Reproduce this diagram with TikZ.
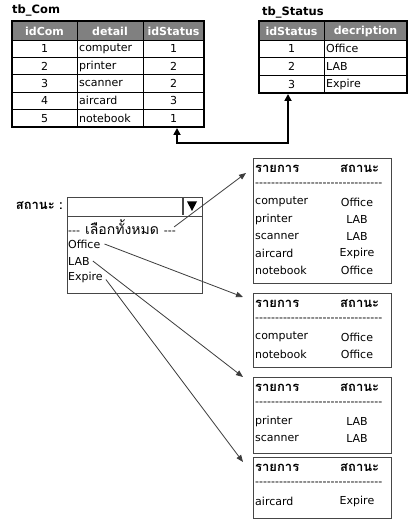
\documentclass[tikz,border=0pt]{standalone}
\usepackage{fontspec}
\usetikzlibrary{arrows.meta}
\setmainfont{DejaVu Sans}
\newfontfamily\thai[Script=Thai]{Loma}
\newcommand\hy{-\kern0pt}
\newcommand\dashrow[1]{\foreach \k in {1,...,#1}{\hy}}
\definecolor{headgray}{RGB}{128,128,128}
\definecolor{framegray}{RGB}{70,70,70}
\definecolor{pickgray}{RGB}{60,60,60}

\tikzset{
  cell/.style={inner sep=0pt, font=\fontsize{11}{12}\selectfont},
  head/.style={inner sep=0pt, text=white, font=\fontsize{11}{12}\selectfont\bfseries},
  title/.style={inner sep=0pt, anchor=west, font=\fontsize{11.5}{13}\selectfont\bfseries},
  thaihead/.style={inner sep=0pt, anchor=west, font=\thai\fontsize{13}{14}\selectfont\bfseries},
  resbox/.style={draw=framegray, line width=0.9pt, anchor=north west, minimum width=138pt, inner sep=0pt},
  pick/.style={draw=pickgray, line width=0.8pt, -{Triangle[length=7pt,width=5.5pt]}},
  fk/.style={line width=2.4pt, {Triangle[length=7pt,width=7pt]}-{Triangle[length=7pt,width=7pt]}}
}

\begin{document}
\begin{tikzpicture}[x=1pt, y=-1pt, line cap=butt]
\useasboundingbox[fill=white] (0,0) rectangle (414,526);

% ---- table tb_Com ----
\node[title] (comTitle) at (12,10) {tb\_Com};
\fill[headgray] (12,21) rectangle (204,40);
\node[head] (comH1) at (44.5,31) {idCom};
\node[head] (comH2) at (110,31) {detail};
\node[head] (comH3) at (173.5,31) {idStatus};
\foreach \id/\name/\st [count=\i] in {1/computer/1, 2/printer/2, 3/scanner/2, 4/aircard/3, 5/notebook/1}{
  \node[cell] (com\i id) at (44.5,{31.3+17.4*\i}) {\id};
  \node[cell, anchor=west] (com\i name) at (79,{31.3+17.4*\i}) {\name};
  \node[cell] (com\i st) at (173.5,{31.3+17.4*\i}) {\st};
}
\foreach \i in {1,...,4}
  \draw[line width=0.7pt] (12,{40+17.4*\i}) -- (204,{40+17.4*\i});
\draw[line width=0.7pt] (12,40) -- (204,40);
\draw[line width=0.7pt] (77,21) -- (77,127) (143,21) -- (143,127);
\draw[line width=1.6pt] (12,21) rectangle (204,127);
\coordinate (comFK) at (177,128);

% ---- table tb_Status ----
\node[title] (stTitle) at (262,12) {tb\_Status};
\fill[headgray] (259,21) rectangle (407,40);
\node[head] (stH1) at (291.5,31) {idStatus};
\node[head] (stH2) at (365.5,31) {decription};
\foreach \id/\name [count=\i] in {1/Office, 2/LAB, 3/Expire}{
  \node[cell] (st\i id) at (291.5,{31.2+17.67*\i}) {\id};
  \node[cell, anchor=west] (st\i name) at (326,{31.2+17.67*\i}) {\name};
}
\foreach \i in {0,...,2}
  \draw[line width=0.7pt] (259,{40+17.67*\i}) -- (407,{40+17.67*\i});
\draw[line width=0.7pt] (324,21) -- (324,93);
\draw[line width=1.6pt] (259,21) rectangle (407,93);
\coordinate (stPK) at (288,94);

% relation
\draw[fk] (comFK) -- ++(0,15) -| (stPK);

% ---- combobox ----
\node[thaihead, anchor=east] (statusLbl) at (63,206) {สถานะ :};
\node[draw=framegray, line width=0.9pt, anchor=north west, minimum width=135pt, minimum height=19pt, inner sep=0pt] (combo) at (67,197) {};
\draw[framegray, line width=1.4pt] (183,198) -- (183,215);
\fill (187,201.5) -- (197,201.5) -- (192,211) -- cycle;
\node[draw=framegray, line width=0.9pt, anchor=north west, minimum width=135pt, minimum height=77pt, inner sep=0pt] (list) at (67,216) {};
\node[cell, anchor=west] (optAll) at (68,227) {\hy\hy\hy\hspace{5pt}{\thai\fontsize{14}{14}\selectfont เลือกทั้งหมด}\hspace{5pt}\hy\hy\hy};
\node[cell, anchor=west] (optOffice) at (68,244) {Office};
\node[cell, anchor=west] (optLab) at (68,261) {LAB};
\node[cell, anchor=west] (optExpire) at (68,277) {Expire};

% ---- result boxes ----
\node[resbox, minimum height=125pt] (res1) at (253,158) {};
\node[resbox, minimum height=74pt] (res2) at (253,293) {};
\node[resbox, minimum height=76pt] (res3) at (253,377) {};
\node[resbox, minimum height=61pt] (res4) at (253,457) {};

\foreach \b/\t in {1/158, 2/293, 3/377, 4/457}{
  \node[thaihead] (res\b item) at (255,\t+11) {รายการ};
  \node[thaihead] (res\b state) at (340,\t+11) {สถานะ};
  \node[cell, anchor=west] (res\b line) at (255,\t+27) {\dashrow{32}};
}
\foreach \name/\st [count=\i] in {computer/Office, printer/LAB, scanner/LAB, aircard/Expire, notebook/Office}{
  \node[cell, anchor=west] (r1n\i) at (255,{158+27+17*\i}) {\name};
  \node[cell] (r1s\i) at (357,{158+27+17*\i}) {\st};
}
\foreach \name/\st [count=\i] in {computer/Office, notebook/Office}{
  \node[cell, anchor=west] (r2n\i) at (255,{293+27+17*\i}) {\name};
  \node[cell] (r2s\i) at (357,{293+27+17*\i}) {\st};
}
\foreach \name/\st [count=\i] in {printer/LAB, scanner/LAB}{
  \node[cell, anchor=west] (r3n\i) at (255,{377+27+17*\i}) {\name};
  \node[cell] (r3s\i) at (357,{377+27+17*\i}) {\st};
}
\node[cell, anchor=west] (r4n1) at (255,501) {aircard};
\node[cell] (r4s1) at (357,501) {Expire};

% ---- selection arrows ----
\draw[pick] ([xshift=-2pt]optAll.east) -- ([shift={(-7,15)}]res1.north west);
\draw[pick] ([xshift=4pt]optOffice.east) -- ([shift={(-10,4)}]res2.north west);
\draw[pick] ([xshift=3pt]optLab.east) -- ([shift={(-10,0)}]res3.north west);
\draw[pick] ([shift={(3,-3)}]optExpire.south east) -- ([shift={(-10,5)}]res4.north west);

\end{tikzpicture}
\end{document}
